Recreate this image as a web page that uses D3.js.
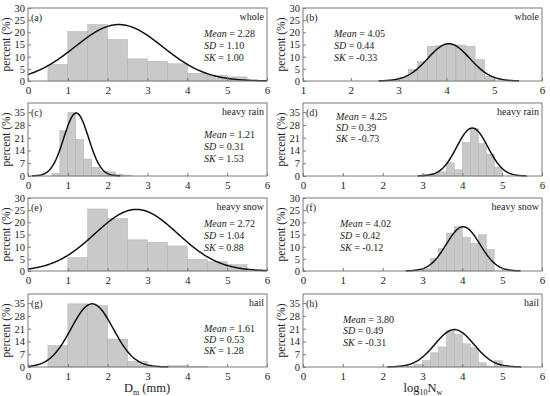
<!DOCTYPE html>
<html><head><meta charset="utf-8">
<script src="https://cdn.jsdelivr.net/npm/d3@7"></script>
<style>body{margin:0;background:#fff}svg{display:block}svg text{font-family:"Liberation Serif","Times New Roman","DejaVu Serif",serif !important}</style>
</head><body>
<script>
// ---- data ----
const panelLetters = ["(a)","(b)","(c)","(d)","(e)","(f)","(g)","(h)"];
const panelTypes = ["whole","whole","heavy rain","heavy rain","heavy snow","heavy snow","hail","hail"];
const xMins = [0,1,0,0,0,0,0,0];
const yMaxs = [30,30,40,40,30,30,40,40];
const yTickSteps = [5,5,7,7,5,5,7,7];
const binWidths = [0.5,0.2,0.2,0.2,0.5,0.2,0.5,0.2];
const binStarts = [0.5,2.8,0.6,3.0,1.0,3.0,0.5,2.6];
const valuesA = [6.8,20.3,23.2,17.1,9.1,8.1,7.1,3.2,2.3,1.7];
const valuesB = [0.4,1.5,4.8,8.0,14.3,14.5,15.0,14.8,14.3,8.8,2.0];
const valuesC = [1.5,24.8,34.8,20.0,9.3,4.7,2.4,2.3,1.0,0.5];
const valuesD = [1.0,1.5,2.3,7.2,3.4,18.3,26.2,17.7,12.0,4.8];
const valuesE = [5.5,25.5,21.5,12.8,11.8,10.3,4.8,3.8,2.6];
const valuesF = [1.0,5.2,9.2,15.6,18.2,13.8,11.3,14.9,8.8];
const valuesG = [11.7,34.6,33.6,15.3,3.0,0,0.7,0.2];
const valuesH = [0.5,1.5,3.5,7.8,11.0,20.0,17.8,12.7,10.5,2.3,0.5,3.4];
const meanVals = [2.28,4.05,1.21,4.25,2.72,4.02,1.61,3.80];
const sdVals = [1.10,0.44,0.31,0.39,1.04,0.42,0.53,0.49];
const skVals = ["1.00","-0.33","1.53","-0.73","0.88","-0.12","1.28","-0.31"];
const curvePeaks = [23.2,15.3,34.5,26.3,25.3,18.2,34.6,20.5];
const allValues = [valuesA,valuesB,valuesC,valuesD,valuesE,valuesF,valuesG,valuesH];

// ---- layout ----
const FONT = "'Liberation Serif', 'Times New Roman', 'DejaVu Serif', serif";
const W = 550, H = 396;
const colX = [[28,267],[303,542]];
const rowTop = [8,103,198,294];
const plotH = 73;
const statsPos = [[204,29],[334,29],[204,35],[336,16.5],[204,28.5],[340,28.5],[204,37.5],[343,28.5]];
const statsGap = [12,12,12,11,12,12,11,11.5];

const svg = d3.select("body").append("svg").attr("width",W).attr("height",H)
  .attr("font-family",FONT);

panelLetters.forEach((lab,i)=>{
  const col = i%2, row = Math.floor(i/2);
  const [xa,xb] = colX[col];
  const top = rowTop[row], bot = top+plotH;
  const x = d3.scaleLinear().domain([xMins[i],6]).range([xa,xb]);
  const y = d3.scaleLinear().domain([0,yMaxs[i]]).range([bot,top]);
  const g = svg.append("g");
  const bars = allValues[i].map((v,k)=>({x0:binStarts[i]+k*binWidths[i], v}));
  g.selectAll("rect.bar").data(bars.filter(d=>d.v>0)).enter().append("rect")
    .attr("x",d=>x(d.x0)).attr("width",d=>x(d.x0+binWidths[i])-x(d.x0))
    .attr("y",d=>y(d.v)).attr("height",d=>y(0)-y(d.v))
    .attr("fill","#c9c9c9").attr("stroke","#b0b0b0").attr("stroke-width",0.5);
  const m = meanVals[i], s = sdVals[i], pk = curvePeaks[i];
  const pts = d3.range(xMins[i], 6.0001, 0.02).map(t=>[t, pk*Math.exp(-((t-m)*(t-m))/(2*s*s))]).filter(p=>p[1]>0.05);
  g.append("path").datum(pts)
    .attr("d", d3.line().x(p=>x(p[0])).y(p=>y(p[1])))
    .attr("fill","none").attr("stroke","#111").attr("stroke-width",1.5);
  g.append("rect").attr("x",xa).attr("y",top).attr("width",xb-xa).attr("height",plotH)
    .attr("fill","none").attr("stroke","#7a7a7a").attr("stroke-width",1);
  const xAxis = d3.axisBottom(x).tickValues(d3.range(xMins[i],7,1)).tickFormat(d3.format("d")).tickSizeInner(-3).tickSizeOuter(0).tickPadding(4);
  const gx = g.append("g").attr("transform",`translate(0,${bot})`).call(xAxis);
  const yAxis = d3.axisLeft(y).tickValues(d3.range(0,yMaxs[i]+0.1,yTickSteps[i]).filter(v=>v<yMaxs[i]-0.5||yTickSteps[i]===5)).tickSizeInner(-3).tickSizeOuter(0).tickPadding(3);
  const gy = g.append("g").attr("transform",`translate(${xa},0)`).call(yAxis);
  [gx,gy].forEach(a=>{
    a.attr("font-family",FONT);
    a.select(".domain").remove();
    a.selectAll(".tick line").attr("stroke","#7a7a7a");
    a.selectAll("text").attr("fill","#222");
  });
  gx.selectAll("text").attr("font-size",11).attr("dy","0.78em");
  gy.selectAll("text").attr("font-size",10.5);
  g.append("text").attr("transform",`translate(${xa-18},${top+plotH/2}) rotate(-90)`)
    .attr("text-anchor","middle").attr("font-size",11.5).attr("fill","#222").text("percent (%)");
  g.append("text").attr("x",xa+3).attr("y",top+13).attr("font-size",10).attr("fill","#222").text(lab);
  g.append("text").attr("x",xb-3).attr("y",top+12).attr("text-anchor","end").attr("font-size",10).attr("fill","#222").text(panelTypes[i]);
  const [sx,sy] = statsPos[i];
  const lines = [["Mean", m.toFixed(2)],["SD", s.toFixed(2)],["SK", skVals[i]]];
  lines.forEach((ln,k)=>{
    const t = svg.append("text").attr("x",sx).attr("y",top+sy+k*statsGap[i]).attr("font-size",10).attr("fill","#222");
    t.append("tspan").attr("font-style","italic").text(ln[0]);
    t.append("tspan").text(" = "+ln[1]);
  });
});
const xt1 = svg.append("text").attr("x",147).attr("y",392).attr("text-anchor","middle").attr("font-size",12.5).attr("fill","#222");
xt1.append("tspan").text("D");
xt1.append("tspan").attr("font-size",8).attr("dy",2.5).text("m");
xt1.append("tspan").attr("dy",-2.5).text(" (mm)");
const xt2 = svg.append("text").attr("x",423).attr("y",392).attr("text-anchor","middle").attr("font-size",12.5).attr("fill","#222");
xt2.append("tspan").text("log");
xt2.append("tspan").attr("font-size",8).attr("dy",2.5).text("10");
xt2.append("tspan").attr("dy",-2.5).text("N");
xt2.append("tspan").attr("font-size",8).attr("dy",2.5).text("w");
</script>
</body></html>
